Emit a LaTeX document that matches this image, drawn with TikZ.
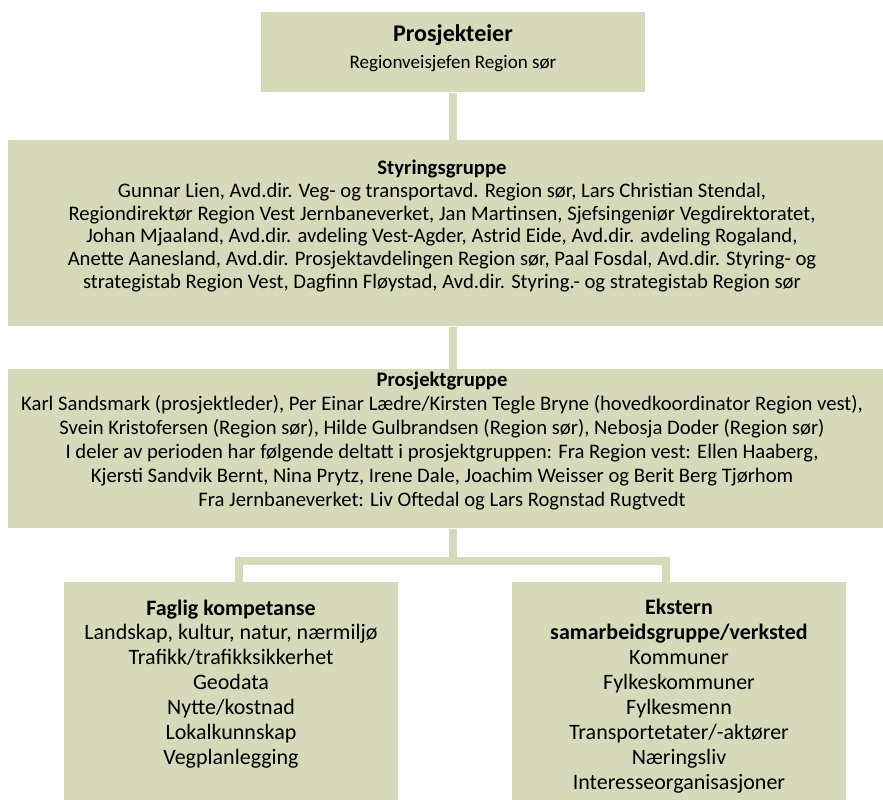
\documentclass[tikz,border=0pt]{standalone}
\usepackage{fontspec}
\setmainfont{Carlito}
\usetikzlibrary{positioning}
\definecolor{boxgreen}{RGB}{214,217,186}
\tikzset{every picture/.style={line width=0.75pt}}
\tikzset{
  orgbox/.style={fill=boxgreen, draw=none, inner sep=0pt},
  orgtext/.style={align=center, inner sep=0pt, font=\fontsize{15.5}{18}\selectfont},
  subtext/.style={align=center, inner sep=0pt, font=\fontsize{16.5}{18.7}\selectfont}
}

\begin{document}
\begin{tikzpicture}[x=0.75pt,y=0.75pt,yscale=-1,xscale=1]
\useasboundingbox (0,0) rectangle (883,800);

%Shape: Rectangles
\node [orgbox, minimum width=288pt, minimum height=60pt] (eier) at (453,52) {};
\node [orgbox, minimum width=656.25pt, minimum height=139.5pt] (styr) at (445.5,233) {};
\node [orgbox, minimum width=656.25pt, minimum height=119.25pt] (prosj) at (445.5,448.5) {};
\node [orgbox, minimum width=250.5pt, minimum height=163.5pt] (fag) at (231,691) {};
\node [orgbox, minimum width=250.5pt, minimum height=163.5pt] (ekst) at (679,691) {};

%Straight Lines
\coordinate (split) at (453,561);
\coordinate (leftdrop) at (239,561);
\coordinate (rightdrop) at (666,561);
\draw [draw=boxgreen, line width=6pt] (eier.south) -- (eier.south |- styr.north);
\draw [draw=boxgreen, line width=6pt] (eier.south |- styr.south) -- (eier.south |- prosj.north);
\draw [draw=boxgreen, line width=6pt] (eier.south |- prosj.south) -- (split);
\draw [draw=boxgreen, line width=6pt, line join=miter] (leftdrop |- fag.north) -- (leftdrop) -- (rightdrop) -- (rightdrop |- ekst.north);

% Text Node
\node [orgtext, font=\fontsize{18}{20}\selectfont\bfseries] (eiertitle) at (453,35) {Prosjekteier};
% Text Node
\node [orgtext, font=\fontsize{14.3}{18}\selectfont] (eiername) at (453,64) {Regionveisjefen Region sør};
% Text Node
\node [orgtext, font=\fontsize{15.5}{17.2}\selectfont] (styrtext) at (442,226) {\textbf{Styringsgruppe}\\
Gunnar Lien, Avd.dir. Veg- og transportavd. Region sør, Lars Christian Stendal,\\
Regiondirektør Region Vest Jernbaneverket, Jan Martinsen, Sjefsingeniør Vegdirektoratet,\\
Johan Mjaaland, Avd.dir. avdeling Vest-Agder, Astrid Eide, Avd.dir. avdeling Rogaland,\\
Anette Aanesland, Avd.dir. Prosjektavdelingen Region sør, Paal Fosdal, Avd.dir. Styring- og\\
strategistab Region Vest, Dagfinn Fløystad, Avd.dir. Styring.- og strategistab Region sør};
% Text Node
\node [orgtext] (prosjtext) at (442,441) {\textbf{Prosjektgruppe}\\
Karl Sandsmark (prosjektleder), Per Einar Lædre/Kirsten Tegle Bryne (hovedkoordinator Region vest),\\
Svein Kristofersen (Region sør), Hilde Gulbrandsen (Region sør), Nebosja Doder (Region sør)\\
I deler av perioden har følgende deltatt i prosjektgruppen: Fra Region vest: Ellen Haaberg,\\
Kjersti Sandvik Bernt, Nina Prytz, Irene Dale, Joachim Weisser og Berit Berg Tjørhom\\
Fra Jernbaneverket: Liv Oftedal og Lars Rognstad Rugtvedt};
% Text Node
\node [subtext] (fagtext) at (231,684) {\textbf{Faglig kompetanse}\\
Landskap, kultur, natur, nærmiljø\\
Trafikk/trafikksikkerhet\\
Geodata\\
Nytte/kostnad\\
Lokalkunnskap\\
Vegplanlegging};
% Text Node
\node [subtext] (eksttext) at (679,696) {\textbf{Ekstern}\\
\textbf{samarbeidsgruppe/verksted}\\
Kommuner\\
Fylkeskommuner\\
Fylkesmenn\\
Transportetater/-aktører\\
Næringsliv\\
Interesseorganisasjoner};

\end{tikzpicture}
\end{document}
